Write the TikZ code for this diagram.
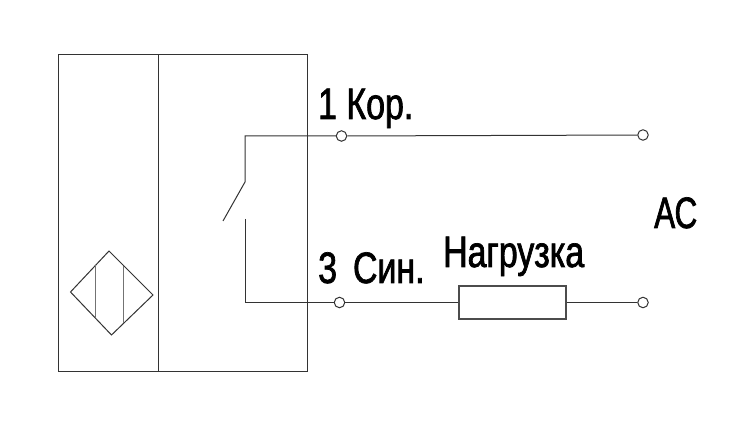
\documentclass[tikz,border=0pt]{standalone}
\usepackage{fontspec}
\newfontfamily\labelfont[FakeStretch=0.77,FakeBold=1.6]{Liberation Sans}
\tikzset{
  wire/.style={draw=black!80,line width=1pt},
  terminal/.style={circle,draw=black!80,fill=white,line width=1pt,minimum size=10.5pt,inner sep=0pt},
  label/.style={inner sep=0pt,anchor=base west,font=\labelfont\fontsize{44}{44}\selectfont,text=black},
  load/.style={rectangle,draw=black!70,line width=1.1pt,minimum width=107pt,minimum height=33pt,inner sep=0pt}
}
\begin{document}
\begin{tikzpicture}[x=1pt,y=-1pt]
\useasboundingbox[fill=white] (0,0) rectangle (748,435);
% body
\draw[wire] (58,55) rectangle (307,372);
\draw[wire] (158,55) -- (158,372);
% sensing diamond
\draw[wire] (70.5,292) -- (109,251) -- (153,295) -- (111.5,335) -- cycle;
\draw[wire,draw=black!55,line width=1.4pt] (95.7,265) -- (95.7,318);
\draw[wire,draw=black!55,line width=1.4pt] (123.7,266) -- (123.7,323);
% terminals and load
\node[terminal] (t1) at (341.5,136) {};
\node[terminal] (t2) at (643,135) {};
\node[terminal] (t3) at (339.5,302.5) {};
\node[terminal] (t4) at (643,302.5) {};
\node[load] (r) at (512.5,302.5) {};
% switch
\coordinate (c1) at (245,136);
\coordinate (s1) at (245,182);
\coordinate (b) at (223,221);
\coordinate (s2) at (245,219);
\coordinate (c2) at (245,302.5);
\draw[wire] (t1) -- (c1) -- (s1) -- (b);
\draw[wire] (s2) -- (c2) -- (t3);
\draw[wire] (t1) -- (t2);
\draw[wire] (t3) -- (r);
\draw[wire] (r) -- (t4);
% labels
\node[label] (l1) at (318,119) {1 Кор.};
\node[label] (l3) at (318,283) {3\hspace{16pt}\llap{}Син.};
\node[label] (ln) at (443,267) {Нагрузка};
\node[label,xscale=0.93,transform shape] (lac) at (654,228) {АС};
\end{tikzpicture}
\end{document}
